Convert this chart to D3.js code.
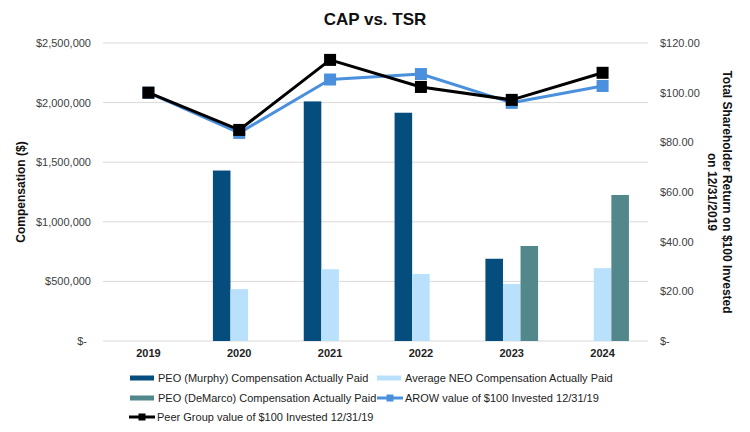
<!DOCTYPE html>
<html>
<head>
<meta charset="utf-8">
<script src="https://cdn.jsdelivr.net/npm/d3@7"></script>
<style>
  body { margin: 0; background: #fff; }
  svg { font-family: "Liberation Sans", Arial, sans-serif; }
</style>
</head>
<body>
<svg id="chart" width="750" height="432"></svg>
<script>
// data
var years = ["2019", "2020", "2021", "2022", "2023", "2024"];
var murphyCAP = [null, 1430000, 2010000, 1915000, 690000, null];
var neoCAP = [null, 435000, 602000, 562000, 478000, 611000];
var demarcoCAP = [null, null, null, null, 797000, 1225000];
var arowTSR = [100, 83.8, 105.3, 107.5, 95.9, 102.7];
var peerTSR = [100, 85.0, 113.2, 102.3, 97.1, 108.0];
var leftTicks = [0, 500000, 1000000, 1500000, 2000000, 2500000];
var rightTicks = [0, 20, 40, 60, 80, 100, 120];

var barSeries = [
    { name: "PEO (Murphy) Compensation Actually Paid", values: murphyCAP, color: "#044d7c" },
    { name: "Average NEO Compensation Actually Paid", values: neoCAP, color: "#b9e1fb" },
    { name: "PEO (DeMarco) Compensation Actually Paid", values: demarcoCAP, color: "#52878b" }
];
var lineSeries = [
    { name: "AROW value of $100 Invested 12/31/19", values: arowTSR, color: "#4a90dc" },
    { name: "Peer Group value of $100 Invested 12/31/19", values: peerTSR, color: "#000000" }
];

var svg = d3.select("#chart");
let plotLeft = 103, plotRight = 648, plotTop = 43, plotBottom = 341;
let textColor = "#404040";

var x0 = d3.scaleBand().domain(years).range([plotLeft, plotRight]);
let groupWidth = x0.bandwidth() * 0.58;
var x1 = d3.scaleBand().domain(barSeries.map(d => d.name)).range([0, groupWidth]);
var yL = d3.scaleLinear().domain([0, 2500000]).range([plotBottom, plotTop]);
var yR = d3.scaleLinear().domain([0, 120]).range([plotBottom, plotTop]);

// gridlines
svg.append("g")
    .selectAll("line")
    .data(leftTicks)
    .enter().append("line")
    .attr("x1", plotLeft).attr("x2", plotRight)
    .attr("y1", d => yL(d)).attr("y2", d => yL(d))
    .attr("stroke", "#d9d9d9").attr("stroke-width", 1);

// left axis
var fmtL = d3.format("$,");
var axL = svg.append("g")
    .attr("transform", "translate(94,0)")
    .call(d3.axisLeft(yL).tickValues(leftTicks).tickSize(0)
        .tickFormat(d => d === 0 ? "$-" : fmtL(d)));
axL.select(".domain").remove();
axL.selectAll("text").style("font-size", "11px").style("fill", textColor)
    .attr("font-family", null)
    .attr("dx", d => d === 0 ? -4 : 0);

// right axis
var axR = svg.append("g")
    .attr("transform", "translate(657,0)")
    .call(d3.axisRight(yR).tickValues(rightTicks).tickSize(0)
        .tickFormat(d => d === 0 ? "$-" : "$" + d3.format(".2f")(d)));
axR.select(".domain").remove();
axR.selectAll("text").style("font-size", "11px").style("fill", textColor)
    .attr("font-family", null);

// year labels
svg.append("g")
    .selectAll("text")
    .data(years)
    .enter().append("text")
    .attr("x", d => x0(d) + x0.bandwidth() / 2)
    .attr("y", 357)
    .attr("text-anchor", "middle")
    .style("font-size", "11px")
    .style("font-weight", "bold")
    .style("fill", "#222")
    .text(d => d);

// bars
barSeries.forEach(function (s) {
    var pts = years.map((yr, i) => ({ year: yr, v: s.values[i] })).filter(d => d.v != null);
    svg.append("g")
        .selectAll("rect")
        .data(pts)
        .enter().append("rect")
        .attr("x", d => x0(d.year) + (x0.bandwidth() - groupWidth) / 2 + x1(s.name))
        .attr("width", x1.bandwidth())
        .attr("y", d => yL(d.v))
        .attr("height", d => plotBottom - yL(d.v))
        .attr("fill", s.color);
});

// lines
var lineGen = d3.line()
    .x(d => x0(d.year) + x0.bandwidth() / 2)
    .y(d => yR(d.v));
lineSeries.forEach(function (s) {
    var pts = years.map((yr, i) => ({ year: yr, v: s.values[i] }));
    svg.append("path")
        .datum(pts)
        .attr("d", lineGen)
        .attr("fill", "none")
        .attr("stroke", s.color)
        .attr("stroke-width", 3)
        .attr("stroke-linejoin", "round");
    svg.append("g")
        .selectAll("rect")
        .data(pts)
        .enter().append("rect")
        .attr("x", d => x0(d.year) + x0.bandwidth() / 2 - 6)
        .attr("y", d => yR(d.v) - 6)
        .attr("width", 12).attr("height", 12)
        .attr("fill", s.color);
});

// title
svg.append("text")
    .attr("x", 375).attr("y", 25)
    .attr("text-anchor", "middle")
    .style("font-size", "17px").style("font-weight", "bold")
    .style("fill", "#111")
    .text("CAP vs. TSR");

// axis titles
svg.append("text")
    .attr("transform", "translate(25,192) rotate(-90)")
    .attr("text-anchor", "middle")
    .style("font-size", "12px").style("font-weight", "bold")
    .style("fill", "#111")
    .text("Compensation ($)");
svg.append("text")
    .attr("transform", "translate(723,192) rotate(90)")
    .attr("text-anchor", "middle")
    .style("font-size", "12px").style("font-weight", "bold")
    .style("fill", "#111")
    .text("Total Shareholder Return on $100 Invested");
svg.append("text")
    .attr("transform", "translate(708,192) rotate(90)")
    .attr("text-anchor", "middle")
    .style("font-size", "12px").style("font-weight", "bold")
    .style("fill", "#111")
    .text("on 12/31/2019");

// legend
var legendItems = [
    { s: barSeries[0], type: "bar", x: 130, y: 378 },
    { s: barSeries[1], type: "bar", x: 377, y: 378 },
    { s: barSeries[2], type: "bar", x: 130, y: 398 },
    { s: lineSeries[0], type: "line", x: 377, y: 398 },
    { s: lineSeries[1], type: "line", x: 129, y: 417 }
];
var legend = svg.append("g").attr("class", "legend");
legendItems.forEach(function (it) {
    var g = legend.append("g").attr("transform", "translate(" + it.x + "," + it.y + ")");
    if (it.type === "bar") {
        g.append("rect").attr("x", 0).attr("y", -2.5).attr("width", 24).attr("height", 5)
            .attr("fill", it.s.color);
    } else {
        g.append("line").attr("x1", 0).attr("x2", 26).attr("y1", 0).attr("y2", 0)
            .attr("stroke", it.s.color).attr("stroke-width", 3);
        g.append("rect").attr("x", 9.5).attr("y", -3.5).attr("width", 7).attr("height", 7)
            .attr("fill", it.s.color);
    }
    g.append("text")
        .attr("x", 28).attr("y", 4)
        .style("font-size", "11px").style("fill", "#222")
        .text(it.s.name);
});
</script>
</body>
</html>
